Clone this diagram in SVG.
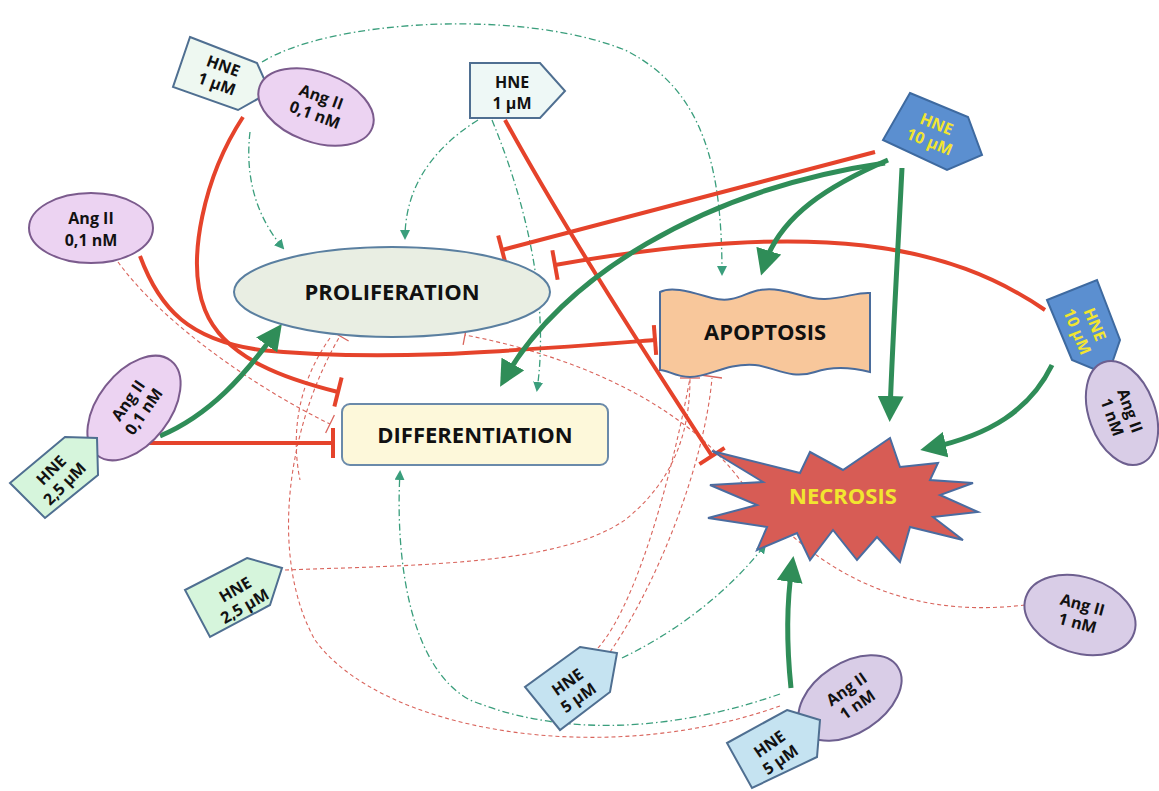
<svg xmlns="http://www.w3.org/2000/svg" width="1159" height="791" viewBox="0 0 1159 791">
<defs>
<style>
.t{font-family:"Open Sans","Liberation Sans",sans-serif;font-weight:bold;font-size:16px;text-anchor:middle;fill:#111}
.big{font-size:22px}
.y{fill:#f2e530}
.nd{stroke:#4f6f91;stroke-width:2}
.ang{fill:#ecd3f2;stroke:#7b5b8d;stroke-width:2}
.ang2{fill:#d9cde7;stroke:#6d5f8f;stroke-width:2}
.inh{fill:none;stroke:#e5432b;stroke-width:4;marker-end:url(#tbar)}
.act{fill:none;stroke:#2f8d58;stroke-width:5;marker-end:url(#ah)}
.dd{fill:none;stroke:#3a9e7c;stroke-width:1.3;stroke-dasharray:7 3 1.5 3;marker-end:url(#sah)}
.rd{fill:none;stroke:#d9645c;stroke-width:1.1;stroke-dasharray:4 3}
.rdt{fill:none;stroke:#d9645c;stroke-width:1.1;stroke-dasharray:4 3;marker-end:url(#tb2)}
</style>
<marker id="tbar" markerUnits="userSpaceOnUse" markerWidth="10" markerHeight="34" viewBox="-5 -17 10 34" refX="0" refY="0" orient="auto"><line x1="0" y1="-15" x2="0" y2="15" stroke="#e5432b" stroke-width="4"/></marker>
<marker id="tb2" markerUnits="userSpaceOnUse" markerWidth="6" markerHeight="24" viewBox="-3 -12 6 24" refX="0" refY="0" orient="auto"><line x1="0" y1="-10" x2="0" y2="10" stroke="#d9645c" stroke-width="1.3"/></marker>
<marker id="ah" markerUnits="userSpaceOnUse" markerWidth="26" markerHeight="26" viewBox="0 -13 26 26" refX="16" refY="0" orient="auto"><path d="M0,-13 L26,0 L0,13 Z" fill="#2f8d58"/></marker>
<marker id="sah" markerUnits="userSpaceOnUse" markerWidth="10" markerHeight="10" viewBox="0 -5 10 10" refX="8" refY="0" orient="auto"><path d="M0,-5 L10,0 L0,5 Z" fill="#3a9e7c"/></marker>
</defs>
<rect width="1159" height="791" fill="#ffffff"/>

<g id="connectors">
<!-- thin red dashed -->
<path class="rdt" d="M118,262 C160,320 250,385 330,424"/>
<path class="rdt" d="M285,570 C420,565 560,565 625,520 C675,480 690,430 690,378"/>
<path class="rd" d="M598,648 C640,600 675,460 690,378"/>
<path class="rd" d="M610,652 C660,580 705,460 712,378"/>
<line x1="665" y1="370" x2="722" y2="378" stroke="#d9645c" stroke-width="1.3"/>
<path class="rdt" d="M1025,605 C900,620 810,570 740,480 C680,400 570,355 465,335"/>
<path class="rdt" d="M780,706 C600,770 380,730 315,640 C270,560 285,430 340,336"/>
<path class="rd" d="M330,338 C300,380 290,430 300,480"/>
<!-- green dash-dot -->
<path class="dd" d="M262,62 C330,20 520,8 625,50 C705,90 722,170 722,274"/>
<path class="dd" d="M250,132 C245,175 255,215 283,248"/>
<path class="dd" d="M478,120 C430,150 405,190 405,238"/>
<path class="dd" d="M492,120 C525,200 550,300 537,390"/>
<path class="dd" d="M622,658 C680,630 730,590 765,545"/>
<path class="dd" d="M780,694 C700,722 580,745 470,700 C410,668 395,560 400,472"/>
<!-- red inhibition -->
<path class="inh" d="M243,117 C205,175 185,260 205,310 C225,360 290,380 338,392"/>
<path class="inh" d="M140,256 C160,310 190,340 260,350 C380,362 500,352 655,340"/>
<path class="inh" d="M140,443 L333,443"/>
<path class="inh" d="M505,120 C560,220 630,330 712,456"/>
<path class="inh" d="M875,152 L502,250"/>
<path class="inh" d="M1045,310 C950,245 820,218 555,265"/>
<!-- green activation -->
<path class="act" d="M160,436 C210,415 245,375 276,332"/>
<path class="act" d="M888,160 C830,185 780,215 764,266"/>
<path class="act" d="M885,163 C700,190 560,280 505,378"/>
<path class="act" d="M902,168 C898,250 893,330 890,412"/>
<path class="act" d="M1052,365 C1030,410 990,435 930,448"/>
<path class="act" d="M791,688 C786,640 787,600 792,566"/>
</g>

<g id="proliferation">
<ellipse cx="392" cy="292" rx="158" ry="45" fill="#e9eee3" stroke="#5a7fa0" stroke-width="2"/>
<text class="t big" x="392" y="300">PROLIFERATION</text>
</g>
<g id="differentiation">
<rect x="342" y="404" width="266" height="61" rx="8" fill="#fdf8da" stroke="#6a8aaa" stroke-width="2"/>
<text class="t big" x="475" y="443">DIFFERENTIATION</text>
</g>
<g id="apoptosis">
<path d="M660,292 C672,286 690,292 712,298 C735,304 745,292 760,290 C785,286 805,300 825,299 C845,298 858,292 870,293 L870,372 C850,367 830,367 815,372 C790,380 775,367 755,365 C725,363 710,377 690,377 C675,377 668,370 660,370 Z" fill="#f8c79b" stroke="#4a6c9c" stroke-width="2"/>
<text class="t big" x="765" y="340">APOPTOSIS</text>
</g>
<g id="necrosis">
<path d="M712,451 L800,473 L810,452 L843,470 L890,438 L900,467 L938,463 L930,480 L973,483 L940,495 L978,512 L933,517 L963,540 L910,527 L900,562 L877,537 L857,560 L833,530 L810,560 L797,533 L757,550 L767,527 L708,518 L757,505 L710,485 L763,482 Z" fill="#d75c55" stroke="#4a6ca0" stroke-width="2"/>
<text class="t big y" x="843" y="504">NECROSIS</text>
</g>

<g id="hne1-a">
<polygon points="190,37 257,63 270,92 238,110 173,87" fill="#eef8f1" class="nd"/>
<g transform="translate(220,75) rotate(20)"><text class="t" x="0" y="-4">HNE</text><text class="t" x="0" y="15">1 µM</text></g>
</g>
<g id="ang01-a">
<ellipse cx="316" cy="107" rx="60" ry="35" transform="rotate(20 316 107)" class="ang"/>
<g transform="translate(318,106) rotate(20)"><text class="t" x="0" y="-4">Ang II</text><text class="t" x="0" y="15">0,1 nM</text></g>
</g>
<g id="hne1-b">
<polygon points="470,63 540,63 565,91 540,118 470,118" fill="#eef8f6" class="nd"/>
<text class="t" x="512" y="88">HNE</text><text class="t" x="512" y="109">1 µM</text>
</g>
<g id="ang01-b">
<ellipse cx="91" cy="228" rx="62" ry="35" class="ang"/>
<text class="t" x="91" y="224">Ang II</text><text class="t" x="91" y="246">0,1 nM</text>
</g>
<g id="ang01-c">
<ellipse cx="134" cy="408" rx="60" ry="36" transform="rotate(-52 134 408)" class="ang"/>
<g transform="translate(136,406) rotate(-55)"><text class="t" x="0" y="-4">Ang II</text><text class="t" x="0" y="15">0,1 nM</text></g>
</g>
<g id="hne25-a">
<polygon points="65,437 97,438 98,475 45,518 10,483" fill="#d6f5dc" class="nd"/>
<g transform="translate(58,477) rotate(-45)"><text class="t" x="0" y="-4">HNE</text><text class="t" x="0" y="15">2,5 µM</text></g>
</g>
<g id="hne10-a">
<polygon points="910,93 968,117 982,155 947,170 883,140" fill="#5b8fd0" stroke="#3e6aa0" stroke-width="2"/>
<g transform="translate(933,133) rotate(22)"><text class="t y" x="0" y="-4">HNE</text><text class="t y" x="0" y="15">10 µM</text></g>
</g>
<g id="hne10-b">
<polygon points="1047,300 1097,280 1120,340 1108,375 1072,360" fill="#5b8fd0" stroke="#3e6aa0" stroke-width="2"/>
<g transform="translate(1086,328) rotate(68)"><text class="t y" x="0" y="-4">HNE</text><text class="t y" x="0" y="15">10 µM</text></g>
</g>
<g id="ang1-a">
<ellipse cx="1122" cy="413" rx="54" ry="33" transform="rotate(70 1122 413)" class="ang2"/>
<g transform="translate(1121,414) rotate(70)"><text class="t" x="0" y="-4">Ang II</text><text class="t" x="0" y="15">1 nM</text></g>
</g>
<g id="hne25-b">
<polygon points="247,558 282,568 270,605 210,637 185,590" fill="#d6f5dc" class="nd"/>
<g transform="translate(240,598) rotate(-30)"><text class="t" x="0" y="-4">HNE</text><text class="t" x="0" y="15">2,5 µM</text></g>
</g>
<g id="ang1-b">
<ellipse cx="1080" cy="615" rx="57" ry="38" transform="rotate(18 1080 615)" class="ang2"/>
<g transform="translate(1080,614) rotate(15)"><text class="t" x="0" y="-4">Ang II</text><text class="t" x="0" y="15">1 nM</text></g>
</g>
<g id="hne5-a">
<polygon points="580,647 617,653 610,692 560,730 525,687" fill="#c5e3f1" class="nd"/>
<g transform="translate(573,690) rotate(-35)"><text class="t" x="0" y="-4">HNE</text><text class="t" x="0" y="15">5 µM</text></g>
</g>
<g id="ang1-c">
<ellipse cx="850" cy="698" rx="57" ry="35" transform="rotate(-33 850 698)" class="ang2"/>
<g transform="translate(852,697) rotate(-35)"><text class="t" x="0" y="-4">Ang II</text><text class="t" x="0" y="15">1 nM</text></g>
</g>
<g id="hne5-b">
<polygon points="787,710 820,720 817,757 752,788 727,743" fill="#c5e3f1" class="nd"/>
<g transform="translate(775,752) rotate(-35)"><text class="t" x="0" y="-4">HNE</text><text class="t" x="0" y="15">5 µM</text></g>
</g>
</svg>
